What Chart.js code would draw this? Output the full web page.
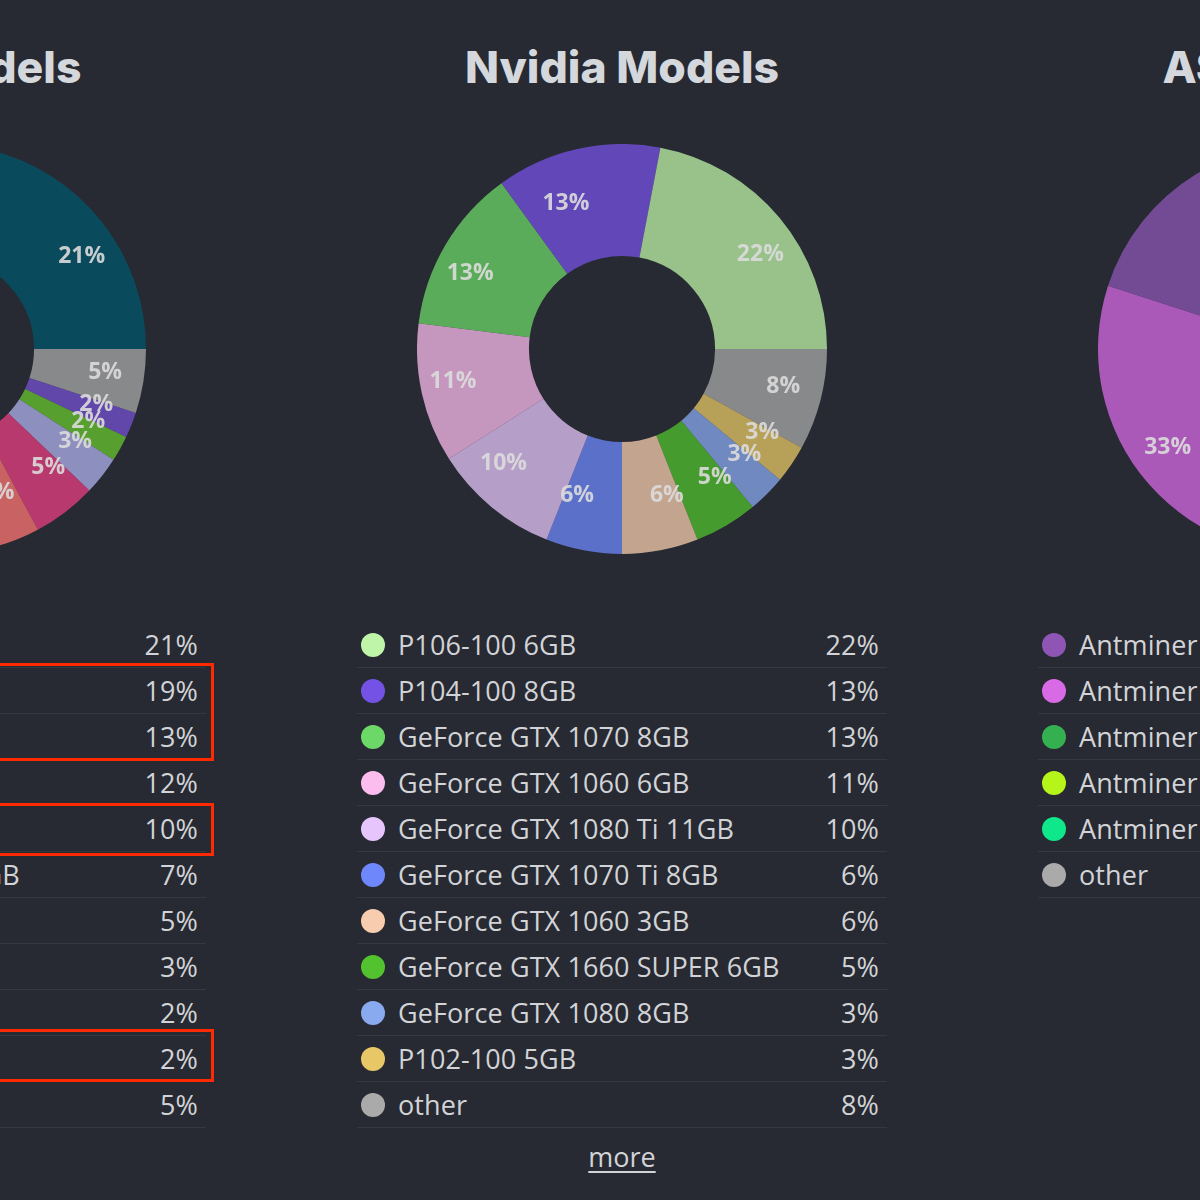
<!DOCTYPE html>
<html>
<head>
<meta charset="utf-8">
<script src="https://cdn.jsdelivr.net/npm/chart.js@4.4.1/dist/chart.umd.min.js"></script>
<style>
  html, body { margin:0; padding:0; width:1200px; height:1200px; overflow:hidden; background:#272a32; }
  .panel { position:absolute; top:0; width:530px; height:1200px; }
  .title { position:absolute; left:-100px; right:-100px; top:43px; text-align:center; font-family:Inter, sans-serif; font-weight:800; font-size:44.5px; line-height:48px; color:#d4d7db; }
  .chartbox { position:absolute; left:60px; top:144px; width:410px; height:410px; }
  ul.legend { position:absolute; left:0; top:622px; width:530px; margin:0; padding:0; list-style:none; }
  ul.legend li { position:relative; height:45px; border-bottom:1px solid #353841; font-family:"Open Sans", sans-serif; font-size:27px; letter-spacing:0.1px; color:#d2d3d6; }
  ul.legend li .dot { position:absolute; left:4px; top:11px; width:24px; height:24px; border-radius:50%; }
  ul.legend li .name { position:absolute; left:41px; top:0; line-height:45px; white-space:nowrap; }
  ul.legend li .pct { position:absolute; right:8px; top:0; line-height:45px; }
  .more { position:absolute; left:0; width:530px; top:1138px; text-align:center; font-family:"Open Sans", sans-serif; font-size:27px; color:#d2d3d6; }
  .more span { text-decoration:underline; text-underline-offset:4px; }
  .redbox { position:absolute; border:3px solid #ff2a00; box-sizing:border-box; }
</style>
</head>
<body>
<script>
// ---------- data ----------
const panelTitles = ['AMD Models', 'Nvidia Models', 'ASIC Models'];

const amdLabels = ['Radeon RX 580 8GB','Radeon RX 570 8GB','Radeon RX 570 4GB','Radeon RX 580 4GB','Radeon RX 470 4GB','Radeon RX Vega 56 8GB','Radeon RX 480 8GB','Radeon RX 5700 XT','Radeon RX 480 4GB','Radeon RX 560 4GB','other'];
const amdValues = [21,19,13,12,10,7,5,3,2,2,5];
const amdPct = ['21%','19%','13%','12%','10%','7%','5%','3%','2%','2%','5%'];
const amdColors = ['#02556c','#3fa7d6','#f2c14e','#ab3aa0','#ff9f43','#ff7674','#ea3f83','#b0b1ef','#68c72f','#7751d3','#aaaaaa'];

const nvidiaLabels = ['P106-100 6GB','P104-100 8GB','GeForce GTX 1070 8GB','GeForce GTX 1060 6GB','GeForce GTX 1080 Ti 11GB','GeForce GTX 1070 Ti 8GB','GeForce GTX 1060 3GB','GeForce GTX 1660 SUPER 6GB','GeForce GTX 1080 8GB','P102-100 5GB','other'];
const nvidiaValues = [22,13,13,11,10,6,6,5,3,3,8];
const nvidiaPct = ['22%','13%','13%','11%','10%','6%','6%','5%','3%','3%','8%'];
const nvidiaColors = ['#bff5a8','#7552e6','#6cd868','#fbbcee','#e5c5fb','#6e88fc','#f8cdaf','#52c22e','#8aaaf0','#e8c866','#aaaaaa'];

const asicLabels = ['Antminer S9','Antminer L3+','Antminer D3','Antminer A3','Antminer Z9 mini','other'];
const asicValues = [45,33,9,5,3,5];
const asicPct = ['45%','33%','9%','5%','3%','5%'];
const asicColors = ['#8e55b5','#d86ae6','#35b050','#b5f51a','#0ee88a','#aaaaaa'];

const panelCenters = [-59, 622, 1303];
// ---------------------------

function withAlpha(hex, a) {
  const n = parseInt(hex.slice(1), 16);
  return 'rgba(' + ((n >> 16) & 255) + ',' + ((n >> 8) & 255) + ',' + (n & 255) + ',' + a + ')';
}

const sliceLabels = {
  id: 'sliceLabels',
  afterDatasetsDraw(chart, args, opts) {
    const ctx = chart.ctx;
    const meta = chart.getDatasetMeta(0);
    const texts = opts.texts || [];
    ctx.save();
    ctx.font = 'bold 23px "Open Sans", sans-serif';
    ctx.fillStyle = 'rgba(220,220,220,0.9)';
    ctx.textBaseline = 'middle';
    meta.data.forEach((arc, i) => {
      const p = arc.tooltipPosition();
      ctx.textAlign = p.x >= arc.x ? 'left' : 'right';
      ctx.fillText(texts[i], p.x, p.y);
    });
    ctx.restore();
  }
};

const panels = [
  { labels: amdLabels, values: amdValues, pct: amdPct, colors: amdColors, more: false },
  { labels: nvidiaLabels, values: nvidiaValues, pct: nvidiaPct, colors: nvidiaColors, more: true },
  { labels: asicLabels, values: asicValues, pct: asicPct, colors: asicColors, more: false }
];

panels.forEach((p, idx) => {
  const div = document.createElement('div');
  div.className = 'panel';
  div.style.left = (panelCenters[idx] - 265) + 'px';
  const t = document.createElement('div');
  t.className = 'title';
  t.textContent = panelTitles[idx];
  div.appendChild(t);

  const box = document.createElement('div');
  box.className = 'chartbox';
  const cv = document.createElement('canvas');
  cv.width = 410; cv.height = 410;
  box.appendChild(cv);
  div.appendChild(box);

  const ul = document.createElement('ul');
  ul.className = 'legend';
  p.labels.forEach((lab, i) => {
    const li = document.createElement('li');
    const d = document.createElement('span'); d.className = 'dot'; d.style.background = p.colors[i];
    const n = document.createElement('span'); n.className = 'name'; n.textContent = lab;
    const v = document.createElement('span'); v.className = 'pct'; v.textContent = p.pct[i];
    li.appendChild(d); li.appendChild(n); li.appendChild(v);
    ul.appendChild(li);
  });
  div.appendChild(ul);

  if (p.more) {
    const m = document.createElement('div');
    m.className = 'more';
    m.innerHTML = '<span>more</span>';
    div.appendChild(m);
  }
  document.body.appendChild(div);

  const rev = a => a.slice().reverse();
  new Chart(cv, {
    type: 'doughnut',
    data: {
      labels: rev(p.labels),
      datasets: [{
        data: rev(p.values),
        backgroundColor: rev(p.colors).map(c => withAlpha(c, 0.75)),
        borderWidth: 0
      }]
    },
    options: {
      responsive: false,
      animation: false,
      rotation: 90,
      cutout: '45.4%',
      layout: { padding: 0 },
      plugins: {
        legend: { display: false },
        tooltip: { enabled: false },
        sliceLabels: { texts: rev(p.pct) }
      }
    },
    plugins: [sliceLabels]
  });
});

// red highlight boxes (annotation on left panel)
[[663, 761], [803, 856], [1029, 1082]].forEach(([t, b]) => {
  const r = document.createElement('div');
  r.className = 'redbox';
  r.style.left = '-20px';
  r.style.width = '234px';
  r.style.top = t + 'px';
  r.style.height = (b - t) + 'px';
  document.body.appendChild(r);
});
</script>
</body>
</html>
